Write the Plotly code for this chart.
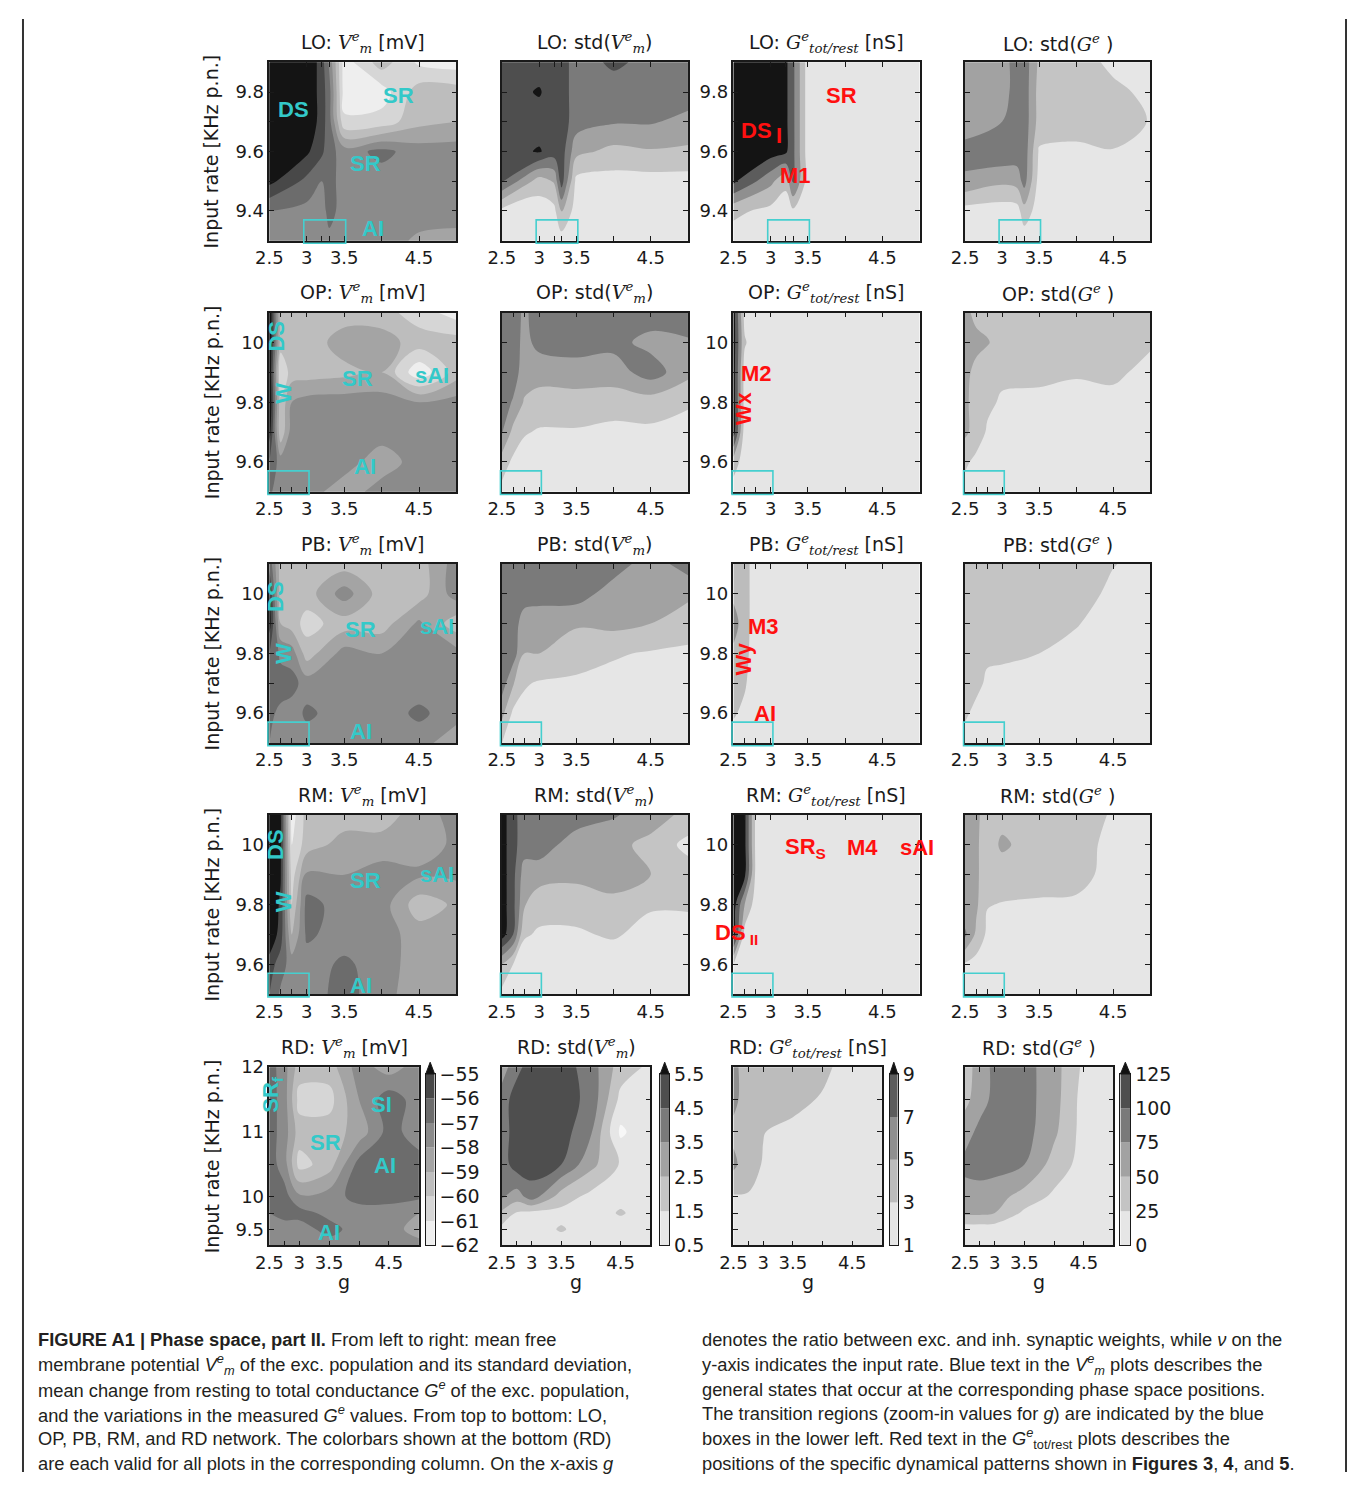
import plotly.graph_objects as go

# page is 1355 x 1491; the html body keeps an 8 px margin, so the figure is 16 px smaller
PAGE_W, PAGE_H, OFF = 1355, 1491, 8
FW, FH = PAGE_W - 2 * OFF, PAGE_H - 2 * OFF

# ---------------- sampling grids ----------------
g_LO = [2.5, 3.0, 3.2, 3.3, 3.5, 4.0, 4.5, 5.0]
g_MID = [2.5, 2.65, 2.8, 3.0, 3.5, 4.0, 4.5, 5.0]
g_RD = [2.5, 2.75, 3.0, 3.5, 4.0, 4.5, 5.0]
nu_LO = [9.3, 9.4, 9.5, 9.6, 9.7, 9.8, 9.9]
nu_MID = [9.5, 9.6, 9.7, 9.8, 9.9, 10.0, 10.1]
nu_RD = [9.25, 9.5, 9.75, 10.0, 10.5, 11.0, 11.5, 12.0]

# ---------------- LO network (rows: low -> high input rate) ----------------
LO_vm = [
    [-57.5, -57.5, -57.5, -57.3, -57.5, -57.5, -58.2, -58.3],
    [-57.0, -57.3, -57.5, -56.6, -57.5, -57.5, -57.5, -57.6],
    [-54.7, -56.3, -57.0, -56.6, -57.5, -57.5, -57.5, -57.5],
    [-54.2, -54.8, -55.8, -56.6, -57.5, -56.7, -57.5, -57.5],
    [-54.0, -54.0, -55.5, -56.6, -60.8, -60.6, -59.3, -59.0],
    [-54.0, -54.0, -55.5, -56.6, -61.5, -61.5, -59.5, -59.5],
    [-54.0, -54.0, -55.5, -57.2, -61.5, -59.5, -61.2, -61.5],
]
LO_vmstd = [
    [0.9, 1.0, 1.0, 1.0, 1.0, 1.0, 1.0, 1.0],
    [1.2, 1.0, 1.2, 2.6, 1.0, 1.0, 1.0, 1.0],
    [4.6, 2.0, 2.6, 5.0, 1.2, 1.1, 1.1, 1.1],
    [5.0, 5.6, 5.0, 5.0, 2.8, 2.2, 2.4, 2.3],
    [5.0, 5.0, 5.0, 5.0, 4.0, 3.6, 3.6, 3.2],
    [5.0, 5.6, 5.0, 5.0, 4.0, 4.0, 4.0, 4.0],
    [5.0, 5.0, 5.0, 5.0, 4.0, 4.7, 4.2, 4.0],
]
LO_ge = [
    [2.0, 2.0, 2.0, 2.0, 2.0, 2.0, 2.0, 2.0],
    [3.5, 2.4, 2.0, 2.6, 2.0, 2.0, 2.0, 2.0],
    [9.5, 5.5, 3.5, 7.5, 2.0, 2.0, 2.0, 2.0],
    [10.0, 10.0, 9.4, 7.5, 2.0, 2.0, 2.0, 2.0],
    [10.0, 10.0, 9.5, 7.5, 2.0, 2.0, 2.0, 2.0],
    [10.0, 10.0, 9.5, 7.5, 2.0, 2.0, 2.0, 2.0],
    [10.0, 10.0, 9.5, 7.5, 2.0, 2.0, 2.0, 2.0],
]
LO_gestd = [
    [10, 10, 10, 10, 10, 10, 10, 10],
    [15, 12, 14, 40, 12, 12, 12, 12],
    [70, 55, 60, 85, 15, 14, 14, 14],
    [85, 95, 90, 90, 22, 20, 24, 20],
    [60, 75, 90, 90, 40, 35, 35, 24],
    [60, 60, 90, 90, 40, 35, 30, 20],
    [60, 60, 90, 90, 45, 35, 20, 15],
]

# ---------------- OP network ----------------
OP_vm = [
    [-56.8, -57.6, -57.5, -57.5, -58.6, -57.5, -57.5, -57.5],
    [-56.0, -57.5, -57.5, -57.5, -57.5, -58.6, -57.5, -57.5],
    [-54.5, -59.8, -57.5, -57.5, -57.5, -57.5, -57.5, -57.5],
    [-54.0, -59.8, -58.0, -57.6, -57.5, -57.5, -58.0, -57.6],
    [-54.0, -61.0, -59.5, -59.5, -59.3, -59.0, -61.8, -59.5],
    [-54.0, -59.5, -59.5, -59.6, -58.5, -58.5, -59.5, -59.5],
    [-54.0, -59.5, -59.5, -59.5, -59.5, -59.6, -60.5, -61.5],
]
OP_vmstd = [
    [1.2, 1.0, 1.0, 1.0, 1.0, 1.0, 1.0, 1.0],
    [2.0, 1.3, 1.0, 1.0, 1.0, 1.0, 1.0, 1.0],
    [3.6, 2.2, 1.6, 1.4, 1.4, 1.2, 1.3, 1.2],
    [4.0, 3.4, 2.4, 2.1, 2.1, 2.0, 2.0, 1.6],
    [4.0, 4.0, 3.0, 2.9, 3.0, 3.0, 4.0, 2.8],
    [4.0, 4.0, 3.2, 3.8, 4.0, 3.8, 3.2, 3.4],
    [4.0, 4.0, 3.3, 4.0, 4.0, 4.0, 4.0, 4.0],
]
OP_ge = [
    [2.0, 2.0, 2.0, 2.0, 2.0, 2.0, 2.0, 2.0],
    [4.0, 2.0, 2.0, 2.0, 2.0, 2.0, 2.0, 2.0],
    [10.0, 2.0, 2.0, 2.0, 2.0, 2.0, 2.0, 2.0],
    [10.0, 2.2, 2.0, 2.0, 2.0, 2.0, 2.0, 2.0],
    [10.0, 2.2, 2.0, 2.0, 2.0, 2.0, 2.0, 2.0],
    [10.0, 3.2, 2.0, 2.0, 2.0, 2.0, 2.0, 2.0],
    [10.0, 2.4, 2.0, 2.0, 2.0, 2.0, 2.0, 2.0],
]
OP_gestd = [
    [15, 12, 12, 12, 12, 12, 12, 12],
    [30, 18, 15, 14, 14, 14, 14, 14],
    [55, 40, 22, 18, 16, 15, 15, 15],
    [55, 40, 30, 22, 20, 18, 18, 14],
    [55, 45, 35, 30, 30, 27, 30, 18],
    [55, 55, 52, 40, 40, 40, 40, 28],
    [55, 45, 40, 40, 40, 40, 40, 40],
]

# ---------------- PB network ----------------
PB_vm = [
    [-57.0, -57.5, -57.5, -57.5, -57.5, -57.5, -57.5, -58.8],
    [-56.8, -57.2, -57.5, -56.8, -57.5, -57.5, -56.8, -57.5],
    [-56.5, -56.6, -56.6, -57.5, -57.5, -57.5, -57.5, -57.5],
    [-56.0, -57.2, -57.5, -59.5, -57.6, -58.0, -57.5, -57.6],
    [-54.5, -59.0, -59.5, -60.4, -59.5, -59.5, -57.8, -59.6],
    [-55.0, -59.5, -59.5, -59.5, -57.5, -59.5, -59.5, -57.5],
    [-56.3, -59.5, -59.5, -59.5, -59.5, -59.5, -59.5, -57.5],
]
PB_vmstd = [
    [1.5, 1.0, 1.0, 1.0, 1.0, 1.0, 1.0, 1.0],
    [2.8, 1.3, 1.2, 1.0, 1.0, 1.0, 1.0, 1.0],
    [4.0, 2.6, 1.6, 1.4, 1.3, 1.2, 1.2, 1.0],
    [4.0, 4.0, 2.5, 2.5, 2.0, 1.6, 1.4, 1.3],
    [4.2, 4.0, 3.0, 2.8, 2.6, 2.8, 2.5, 2.0],
    [4.0, 4.0, 4.0, 4.0, 4.0, 3.0, 2.8, 2.7],
    [4.0, 4.0, 4.0, 4.0, 4.0, 4.0, 3.0, 4.0],
]
PB_ge = [
    [2.2, 2.0, 2.0, 2.0, 2.0, 2.0, 2.0, 2.0],
    [3.2, 2.6, 2.0, 2.0, 2.0, 2.0, 2.0, 2.0],
    [4.0, 3.2, 2.0, 2.0, 2.0, 2.0, 2.0, 2.0],
    [4.5, 3.6, 2.0, 2.0, 2.0, 2.0, 2.0, 2.0],
    [6.0, 3.8, 2.0, 2.0, 2.0, 2.0, 2.0, 2.0],
    [4.5, 3.8, 2.0, 2.0, 2.0, 2.0, 2.0, 2.0],
    [4.5, 3.8, 2.0, 2.0, 2.0, 2.0, 2.0, 2.0],
]
PB_gestd = [
    [18, 12, 12, 12, 12, 12, 12, 12],
    [28, 20, 15, 14, 14, 13, 12, 12],
    [35, 30, 22, 20, 18, 16, 14, 12],
    [38, 35, 28, 28, 25, 20, 16, 14],
    [40, 40, 35, 35, 32, 26, 18, 15],
    [40, 40, 40, 40, 38, 35, 20, 16],
    [40, 40, 40, 40, 40, 35, 26, 18],
]

# ---------------- RM network ----------------
RM_vm = [
    [-56.0, -57.2, -57.5, -57.5, -56.6, -57.6, -58.6, -58.6],
    [-55.5, -56.5, -57.5, -57.5, -56.8, -57.5, -58.5, -58.6],
    [-54.0, -55.5, -59.0, -56.8, -57.5, -57.5, -58.5, -58.5],
    [-54.0, -55.2, -60.0, -56.6, -57.5, -57.5, -59.6, -58.8],
    [-54.0, -54.9, -60.5, -57.8, -58.0, -57.5, -57.8, -57.8],
    [-54.0, -54.8, -61.0, -59.5, -58.6, -58.6, -58.5, -57.8],
    [-54.0, -54.8, -61.5, -59.6, -59.5, -59.5, -58.5, -57.6],
]
RM_vmstd = [
    [1.2, 1.0, 1.0, 1.0, 1.0, 1.0, 1.0, 1.0],
    [2.5, 1.5, 1.0, 1.0, 1.0, 1.0, 1.0, 1.0],
    [6.0, 4.5, 1.6, 1.4, 1.4, 1.6, 1.2, 1.2],
    [6.0, 4.8, 2.6, 1.8, 1.8, 2.2, 1.6, 1.6],
    [6.0, 4.8, 3.0, 3.0, 2.8, 3.0, 2.5, 2.0],
    [6.0, 4.8, 4.0, 4.0, 3.0, 2.8, 2.2, 1.2],
    [6.0, 4.8, 4.0, 4.0, 4.0, 3.6, 3.0, 2.2],
]
RM_ge = [
    [2.0, 2.0, 2.0, 2.0, 2.0, 2.0, 2.0, 2.0],
    [3.0, 2.0, 2.0, 2.0, 2.0, 2.0, 2.0, 2.0],
    [10.0, 2.2, 2.0, 2.0, 2.0, 2.0, 2.0, 2.0],
    [10.0, 5.0, 2.0, 2.0, 2.0, 2.0, 2.0, 2.0],
    [10.0, 9.5, 2.5, 2.0, 2.0, 2.0, 2.0, 2.0],
    [10.0, 9.5, 2.5, 2.0, 2.0, 2.0, 2.0, 2.0],
    [10.0, 9.5, 2.5, 2.0, 2.0, 2.0, 2.0, 2.0],
]
RM_gestd = [
    [15, 12, 12, 12, 12, 12, 12, 12],
    [22, 15, 14, 13, 13, 13, 12, 12],
    [80, 45, 20, 18, 16, 16, 14, 12],
    [55, 55, 26, 24, 22, 20, 14, 12],
    [55, 55, 35, 35, 35, 35, 15, 12],
    [55, 55, 35, 55, 35, 35, 18, 12],
    [55, 55, 40, 40, 40, 40, 22, 14],
]

# ---------------- RD network ----------------
RD_vm = [
    [-57.5, -57.5, -57.5, -57.5, -57.5, -57.5, -57.6],
    [-57.5, -57.5, -57.5, -56.6, -57.5, -57.5, -58.5],
    [-57.0, -56.6, -56.6, -57.3, -57.5, -57.5, -58.0],
    [-56.8, -56.6, -57.8, -57.5, -56.6, -56.6, -56.8],
    [-56.5, -57.5, -60.4, -59.5, -56.6, -56.6, -56.6],
    [-56.5, -57.5, -59.5, -59.5, -58.6, -56.6, -57.5],
    [-56.5, -57.5, -60.4, -60.4, -58.0, -56.4, -57.5],
    [-56.5, -57.6, -59.5, -59.5, -57.5, -58.5, -57.5],
]
RD_vmstd = [
    [1.0, 1.0, 1.0, 1.0, 1.0, 1.0, 1.0],
    [1.2, 1.0, 1.0, 1.6, 1.0, 1.0, 1.0],
    [2.3, 1.4, 1.2, 1.2, 1.0, 1.6, 1.0],
    [3.6, 3.0, 4.0, 2.0, 1.2, 1.2, 1.0],
    [4.0, 5.0, 5.0, 4.5, 2.8, 1.4, 1.2],
    [4.0, 5.0, 5.0, 5.0, 3.6, 0.3, 1.3],
    [4.0, 5.0, 5.0, 5.0, 4.2, 1.2, 1.3],
    [3.0, 4.2, 5.0, 5.0, 4.0, 2.0, 1.3],
]
RD_ge = [
    [2.0, 2.0, 2.0, 2.0, 2.0, 2.0, 2.0],
    [2.2, 2.0, 2.0, 2.0, 2.0, 2.0, 2.0],
    [2.6, 2.2, 2.0, 2.0, 2.0, 2.0, 2.0],
    [2.8, 2.9, 2.0, 2.0, 2.0, 2.0, 2.0],
    [5.5, 3.6, 2.9, 2.0, 2.0, 2.0, 2.0],
    [4.5, 4.0, 3.05, 2.5, 2.0, 2.0, 2.0],
    [5.5, 4.0, 4.0, 3.6, 2.8, 2.0, 2.0],
    [5.5, 4.0, 4.0, 4.0, 3.5, 2.0, 2.0],
]
RD_gestd = [
    [10, 10, 10, 10, 10, 10, 10],
    [12, 12, 12, 12, 12, 12, 12],
    [55, 55, 50, 20, 15, 12, 12],
    [60, 60, 60, 40, 20, 12, 12],
    [85, 90, 85, 75, 40, 15, 12],
    [60, 85, 85, 85, 55, 15, 12],
    [45, 60, 85, 85, 60, 15, 12],
    [45, 55, 85, 85, 60, 20, 12],
]

# ---------------- colour levels (one per column) ----------------
lev_vm = [-62, -61, -60, -59, -58, -57, -56, -55]
lev_vmstd = [0.5, 1.5, 2.5, 3.5, 4.5, 5.5]
lev_ge = [1, 3, 5, 7, 9]
lev_gestd = [0, 25, 50, 75, 100, 125]

# tick labels
xt_LO = ['2.5', '3', '', '', '3.5', '', '4.5', '']
xt_MID = ['2.5', '', '', '3', '3.5', '', '4.5', '']
xt_RD = ['2.5', '', '3', '3.5', '', '4.5', '']
yt_LO = ['', '9.4', '', '9.6', '', '9.8', '']
yt_MID = ['', '9.6', '', '9.8', '', '10', '']
yt_RD = ['', '9.5', '', '10', '', '11', '', '12']

nets = ['LO', 'OP', 'PB', 'RM', 'RD']
datasets = [
    [LO_vm, LO_vmstd, LO_ge, LO_gestd],
    [OP_vm, OP_vmstd, OP_ge, OP_gestd],
    [PB_vm, PB_vmstd, PB_ge, PB_gestd],
    [RM_vm, RM_vmstd, RM_ge, RM_gestd],
    [RD_vm, RD_vmstd, RD_ge, RD_gestd],
]
row_g = [g_LO, g_MID, g_MID, g_MID, g_RD]
row_nu = [nu_LO, nu_MID, nu_MID, nu_MID, nu_RD]
row_xt = [xt_LO, xt_MID, xt_MID, xt_MID, xt_RD]
row_yt = [yt_LO, yt_MID, yt_MID, yt_MID, yt_RD]
col_levels = [lev_vm, lev_vmstd, lev_ge, lev_gestd]

# ---------------- style ----------------
col_colors = [
    ['#f3f3f3', '#eeeeee', '#d6d6d6', '#bdbdbd', '#a4a4a4', '#8b8b8b', '#6c6c6c', '#484848', '#141414'],
    ['#f7f7f7', '#e6e6e6', '#c4c4c4', '#a2a2a2', '#7a7a7a', '#4e4e4e', '#141414'],
    ['#ececec', '#e5e5e5', '#bcbcbc', '#8f8f8f', '#5c5c5c', '#141414'],
    ['#ececec', '#e6e6e6', '#c4c4c4', '#a2a2a2', '#7a7a7a', '#4e4e4e', '#141414'],
]
# page-pixel positions
col_px = [(258, 447), (493, 681), (727, 915), (961, 1148)]
col_px_rd = [(258, 409), (493, 643), (727, 877), (961, 1111)]
row_px = [(52, 233), (306, 488), (561, 743), (816, 998), (1072, 1253)]
cbar_px = [(416, 425), (653, 662), (885, 893), (1118, 1128)]
cbar_y = (1079, 1253)
tri_top = 1067

CYAN = '#33c9c9'
RED = '#ff1010'
INK = '#1a1a1a'
TICKFONT = dict(family='DejaVu Sans', size=18, color=INK)


def px_x(p):
    return (p - OFF) / FW


def px_y(p):
    return 1 - (p - OFF) / FH


def sym(s):
    return "<span style='font-family:DejaVu Serif'><i>" + s + "</i></span>"


Vsym = sym('V') + '<sup>' + sym('e') + '</sup><sub>' + sym('m') + '</sub>'
Gsym = sym('G') + '<sup>' + sym('e') + '</sup><sub>' + sym('tot/rest') + '</sub>'
Gsym2 = sym('G') + '<sup>' + sym('e') + '</sup>'
title_tpl = ['{n}: ' + Vsym + ' [mV]', '{n}: std(' + Vsym + ')',
             '{n}: ' + Gsym + ' [nS]', '{n}: std(' + Gsym2 + ' )']

fig = go.Figure()
layout = {}
annotations = []
shapes = []


def ax_keys(k):
    return ('xaxis' if k == 1 else 'xaxis%d' % k,
            'yaxis' if k == 1 else 'yaxis%d' % k,
            'x' if k == 1 else 'x%d' % k,
            'y' if k == 1 else 'y%d' % k)


for r in range(5):
    for c in range(4):
        k = r * 4 + c + 1
        xk, yk, xr, yr = ax_keys(k)
        lev = col_levels[c]
        cols = col_colors[c]
        n = len(cols) - 1
        fig.add_trace(go.Contour(
            x=row_g[r], y=row_nu[r], z=datasets[r][c], xaxis=xr, yaxis=yr,
            autocontour=False, showscale=False, hoverinfo='skip',
            contours=dict(start=lev[0], end=lev[-1], size=lev[1] - lev[0],
                          coloring='fill', showlines=False),
            colorscale=[[i / n, cols[i]] for i in range(n + 1)],
            line=dict(width=0)))
        x0, x1 = (col_px_rd if r == 4 else col_px)[c]
        y0, y1 = row_px[r]
        g = row_g[r]
        nu = row_nu[r]
        show_y = (c == 0) or (c == 2 and r < 4)
        layout[xk] = dict(domain=[px_x(x0), px_x(x1)], range=[g[0], g[-1]], anchor=yr,
                          tickmode='array', tickvals=g, ticktext=row_xt[r],
                          ticks='inside', ticklen=5, tickwidth=1, tickcolor=INK,
                          showline=True, linecolor=INK, linewidth=1.5, mirror='allticks',
                          showgrid=False, zeroline=False, tickfont=TICKFONT, fixedrange=True)
        layout[yk] = dict(domain=[px_y(y1), px_y(y0)], range=[nu[0], nu[-1]], anchor=xr,
                          tickmode='array', tickvals=nu, ticktext=row_yt[r],
                          showticklabels=show_y,
                          ticks='inside', ticklen=5, tickwidth=1, tickcolor=INK,
                          showline=True, linecolor=INK, linewidth=1.5, mirror='allticks',
                          showgrid=False, zeroline=False, tickfont=TICKFONT, fixedrange=True)
        # panel title
        annotations.append(dict(text=title_tpl[c].format(n=nets[r]), xref='paper', yref='paper',
                                x=px_x((x0 + x1) / 2), y=px_y(y0 - 20), showarrow=False,
                                xanchor='center', yanchor='middle',
                                font=dict(family='DejaVu Sans', size=19, color=INK)))
        # zoom-in boxes (transition regions)
        if r < 4:
            bx = [2.96, 3.52] if r == 0 else [2.48, 3.03]
            by_top = 9.37 if r == 0 else 9.57
            shapes.append(dict(type='rect', xref=xr + ' domain', yref=yr + ' domain',
                               x0=(bx[0] - g[0]) / (g[-1] - g[0]), x1=(bx[1] - g[0]) / (g[-1] - g[0]),
                               y0=-0.015, y1=(by_top - nu[0]) / (nu[-1] - nu[0]),
                               line=dict(color='#45cfcf', width=1.6), fillcolor='rgba(0,0,0,0)'))
    # row y-label
    yc = (row_px[r][0] + row_px[r][1]) / 2
    annotations.append(dict(text='Input rate [KHz p.n.]', xref='paper', yref='paper',
                            x=px_x(200), y=px_y(yc), textangle=-90, showarrow=False,
                            xanchor='center', yanchor='middle',
                            font=dict(family='DejaVu Sans', size=19, color=INK)))

# x labels under the bottom row
for c in range(4):
    x0, x1 = col_px_rd[c]
    annotations.append(dict(text='g', xref='paper', yref='paper', x=px_x((x0 + x1) / 2),
                            y=px_y(1290), showarrow=False, xanchor='center', yanchor='middle',
                            font=dict(family='DejaVu Sans', size=19, color=INK)))

# ---------------- colourbars (bottom row) ----------------
cbar_labels = [
    [('%d' % v).replace('-', '\u2212') for v in lev_vm],
    ['%.1f' % v for v in lev_vmstd],
    ['%d' % v for v in lev_ge],
    ['%d' % v for v in lev_gestd],
]
for c in range(4):
    k = 21 + c
    xk, yk, xr, yr = ax_keys(k)
    lev = col_levels[c]
    bands = col_colors[c][1:-1]
    fig.add_trace(go.Bar(x=[0] * (len(lev) - 1), y=[lev[i + 1] - lev[i] for i in range(len(lev) - 1)],
                         base=lev[:-1], marker=dict(color=bands, line=dict(width=0)), width=1.0,
                         xaxis=xr, yaxis=yr, hoverinfo='skip', showlegend=False))
    cx0, cx1 = cbar_px[c]
    layout[xk] = dict(domain=[px_x(cx0), px_x(cx1)], range=[-0.5, 0.5], anchor=yr,
                      showticklabels=False, ticks='', showline=True, linecolor=INK, linewidth=1.2,
                      mirror=True, showgrid=False, zeroline=False, fixedrange=True)
    layout[yk] = dict(domain=[px_y(cbar_y[1]), px_y(cbar_y[0])], range=[lev[0], lev[-1]],
                      anchor=xr, side='right', tickmode='array', tickvals=lev,
                      ticktext=cbar_labels[c], ticks='', showline=True, linecolor=INK,
                      linewidth=1.2, mirror=True, showgrid=False, zeroline=False,
                      tickfont=dict(family='DejaVu Sans', size=19, color=INK), fixedrange=True)
    # extend-max triangle
    shapes.append(dict(type='path', xref='paper', yref='paper',
                       path='M %f,%f L %f,%f L %f,%f Z' % (px_x(cx0), px_y(cbar_y[0]),
                                                          px_x(cx1), px_y(cbar_y[0]),
                                                          px_x((cx0 + cx1) / 2), px_y(tri_top)),
                       fillcolor='#111111', line=dict(color=INK, width=1)))

# ---------------- state labels ----------------
# (row, col, g, nu, text, colour, angle)
labels = [
    (0, 0, 2.82, 9.74, 'DS', CYAN, 0), (0, 0, 4.23, 9.79, 'SR', CYAN, 0),
    (0, 0, 3.78, 9.56, 'SR', CYAN, 0), (0, 0, 3.89, 9.34, 'AI', CYAN, 0),
    (0, 2, 3.95, 9.79, 'SR', RED, 0), (0, 2, 2.81, 9.67, 'DS', RED, 0),
    (0, 2, 3.11, 9.655, 'I', RED, 0), (0, 2, 3.34, 9.52, 'M1', RED, 0),
    (1, 0, 2.59, 10.02, 'DS', CYAN, -90), (1, 0, 2.69, 9.83, 'W', CYAN, -90),
    (1, 0, 3.68, 9.88, 'SR', CYAN, 0), (1, 0, 4.68, 9.89, 'sAI', CYAN, 0),
    (1, 0, 3.78, 9.585, 'AI', CYAN, 0),
    (1, 2, 2.81, 9.895, 'M2', RED, 0), (1, 2, 2.63, 9.78, 'Wx', RED, -90),
    (2, 0, 2.58, 9.99, 'DS', CYAN, -90), (2, 0, 2.69, 9.80, 'W', CYAN, -90),
    (2, 0, 3.72, 9.88, 'SR', CYAN, 0), (2, 0, 4.74, 9.89, 'sAI', CYAN, 0),
    (2, 0, 3.73, 9.54, 'AI', CYAN, 0),
    (2, 2, 2.91, 9.89, 'M3', RED, 0), (2, 2, 2.63, 9.78, 'Wy', RED, -90),
    (2, 2, 2.93, 9.60, 'AI', RED, 0),
    (3, 0, 2.59, 10.0, 'DS', CYAN, -90), (3, 0, 2.69, 9.81, 'W', CYAN, -90),
    (3, 0, 3.78, 9.88, 'SR', CYAN, 0), (3, 0, 4.74, 9.90, 'sAI', CYAN, 0),
    (3, 0, 3.73, 9.53, 'AI', CYAN, 0),
    (3, 2, 3.47, 9.99, 'SR<sub>S</sub>', RED, 0), (3, 2, 4.23, 9.99, 'M4', RED, 0),
    (3, 2, 4.96, 9.99, 'sAI', RED, 0), (3, 2, 2.54, 9.70, 'DS<sub> II</sub>', RED, 0),
    (4, 0, 2.55, 11.58, 'SR<sub>f</sub>', CYAN, -90), (4, 0, 4.37, 11.43, 'SI', CYAN, 0),
    (4, 0, 3.44, 10.84, 'SR', CYAN, 0), (4, 0, 4.44, 10.49, 'AI', CYAN, 0),
    (4, 0, 3.49, 9.45, 'AI', CYAN, 0),
]
for (r, c, gx, ny, txt, colr, ang) in labels:
    k = r * 4 + c + 1
    _, _, xr, yr = ax_keys(k)
    annotations.append(dict(text='<b>' + txt + '</b>', xref=xr, yref=yr, x=gx, y=ny,
                            showarrow=False, textangle=ang, xanchor='center', yanchor='middle',
                            font=dict(family='Liberation Sans, Arial', size=22, color=colr)))

# ---------------- caption ----------------
iv = '<i>V</i><sup><i>e</i></sup><sub><i>m</i></sub>'
ig = '<i>G</i><sup><i>e</i></sup>'
cap_left = [
    '<b>FIGURE A1 | Phase space, part II.</b> From left to right: mean free',
    'membrane potential ' + iv + ' of the exc. population and its standard deviation,',
    'mean change from resting to total conductance ' + ig + ' of the exc. population,',
    'and the variations in the measured ' + ig + ' values. From top to bottom: LO,',
    'OP, PB, RM, and RD network. The colorbars shown at the bottom (RD)',
    'are each valid for all plots in the corresponding column. On the x-axis <i>g</i>',
]
cap_right = [
    'denotes the ratio between exc. and inh. synaptic weights, while <i>\u03bd</i> on the',
    'y-axis indicates the input rate. Blue text in the ' + iv + ' plots describes the',
    'general states that occur at the corresponding phase space positions.',
    'The transition regions (zoom-in values for <i>g</i>) are indicated by the blue',
    'boxes in the lower left. Red text in the <i>G</i><sup><i>e</i></sup><sub>tot/rest</sub> plots describes the',
    'positions of the specific dynamical patterns shown in <b>Figures 3</b>, <b>4</b>, and <b>5</b>.',
]
CAPFONT = dict(family='Liberation Sans, Arial', size=18.3, color='#231f20')
for i, line in enumerate(cap_left):
    annotations.append(dict(text=line, xref='paper', yref='paper', x=px_x(22), y=px_y(1349 + 25 * i),
                            showarrow=False, xanchor='left', yanchor='middle', font=CAPFONT))
for i, line in enumerate(cap_right):
    annotations.append(dict(text=line, xref='paper', yref='paper', x=px_x(693), y=px_y(1349 + 25 * i),
                            showarrow=False, xanchor='left', yanchor='middle', font=CAPFONT))

# page border lines
shapes.append(dict(type='line', xref='paper', yref='paper', x0=px_x(9), x1=px_x(9), y0=0, y1=1,
                   line=dict(color='#333333', width=2)))
shapes.append(dict(type='line', xref='paper', yref='paper', x0=px_x(1346), x1=px_x(1346), y0=0, y1=1,
                   line=dict(color='#333333', width=2)))

fig.update_layout(width=FW, height=FH, margin=dict(l=0, r=0, t=0, b=0), autosize=False,
                  paper_bgcolor='white', plot_bgcolor='white', showlegend=False,
                  font=dict(family='DejaVu Sans', color=INK),
                  annotations=annotations, shapes=shapes, **layout)

fig.write_html('out.html', config={'displayModeBar': False, 'responsive': False})
